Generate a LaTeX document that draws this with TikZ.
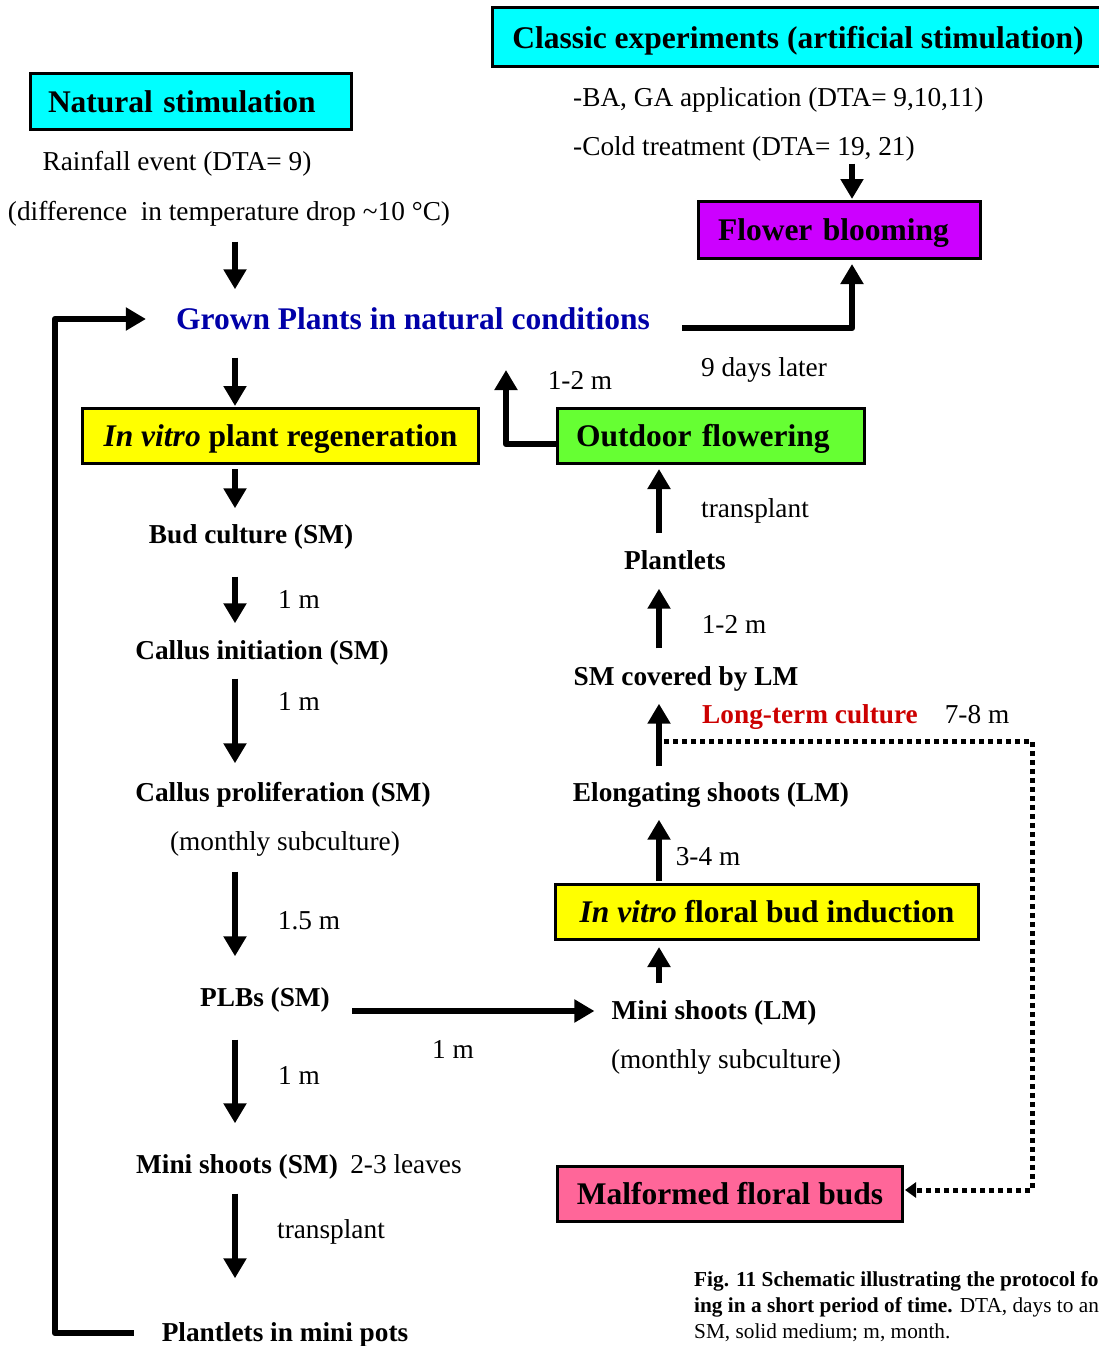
\documentclass[tikz,border=0pt]{standalone}
\usepackage{fontspec}
\setmainfont{Liberation Serif}
\usetikzlibrary{arrows.meta}
\definecolor{cyanbox}{HTML}{00FFFF}
\definecolor{magbox}{HTML}{CC00FF}
\definecolor{yelbox}{HTML}{FFFF00}
\definecolor{grnbox}{HTML}{66FF33}
\definecolor{pinkbox}{HTML}{FF6699}
\definecolor{bluetxt}{HTML}{0000A8}
\definecolor{redtxt}{HTML}{CC0000}
\tikzset{
  t/.style={inner sep=0pt, text height=22pt, text depth=5pt, font=\fontsize{27.3}{32}\selectfont},
  tb/.style={inner sep=0pt, text height=22pt, text depth=5pt, font=\bfseries\fontsize{27.3}{32}\selectfont},
  ttl/.style={inner sep=0pt, text height=27pt, text depth=6pt, font=\bfseries\fontsize{31.5}{37}\selectfont},
  box/.style={ttl, draw, line width=3pt},
  arr/.style={line width=6.5pt, line join=round, -{Triangle[length=20pt,width=22pt]}},
  dotarr/.style={line width=5pt, dash pattern=on 5pt off 4pt, -{Triangle[length=11pt,width=15pt]}},
  captxt/.style={inner sep=0pt, anchor=base west, font=\fontsize{21.3}{25}\selectfont}
}
\begin{document}
\begin{tikzpicture}[x=1pt,y=-1pt]
\useasboundingbox (0,0) rectangle (1099,1346);
% helper x positions
\coordinate (colL) at (235,0);
\coordinate (colR) at (659,0);
\coordinate (fx) at (852,0);
\coordinate (loopx) at (55,0);
\coordinate (dotx) at (1032,0);
\coordinate (upend) at (506,370);
\coordinate (dotstart) at (664,741);

% Classic experiments box (runs off the right edge)
\fill[cyanbox] (492,8) rectangle (1099,67);
\draw[line width=3pt] (1099,8) -- (492,8) -- (492,67) -- (1099,67);
\node[ttl] (classic) at (798,38) {Classic experiments (artificial stimulation)};
\node[t, anchor=west] (ba) at (573,98) {-BA, GA application (DTA= 9,10,11)};
\node[t, anchor=west] (cold) at (573,147) {-Cold treatment (DTA= 19, 21)};

\node[box, fill=magbox, minimum height=57pt, inner xsep=19.5pt, text width=243pt, align=left] (flower) at (839.5,230) {Flower blooming};

% Natural stimulation
\node[box, fill=cyanbox, minimum height=56pt, inner xsep=18pt, text width=285pt, align=left] (natural) at (190.5,101.5) {Natural stimulation};
\node[t] (rain) at (177,162) {Rainfall event (DTA= 9)};
\node[t] (diff) at (229,212) {(difference\ \ in temperature drop \char`~10 °C)};

\node[ttl, text=bluetxt] (grown) at (413,319) {Grown Plants in natural conditions};
\node[t] (later) at (764,368) {9 days later};
\node[t] (m12a) at (580,381) {1-2 m};

\node[box, fill=yelbox, minimum width=396pt, minimum height=55pt] (ivr) at (280.5,436) {\textit{In vitro} plant regeneration};
\node[box, fill=grnbox, minimum height=55pt, inner xsep=18.5pt, text width=270pt, align=left] (outdoor) at (711,436) {Outdoor flowering};

% left column
\node[tb] (bud) at (251,535) {Bud culture (SM)};
\node[t] (m1a) at (299,600) {1 m};
\node[tb] (cinit) at (262,651) {Callus initiation (SM)};
\node[t] (m1b) at (299,702) {1 m};
\node[tb] (cprolif) at (283,793) {Callus proliferation (SM)};
\node[t] (sub1) at (285,842) {(monthly subculture)};
\node[t] (m15) at (309,921) {1.5 m};
\node[tb] (plbs) at (265,998) {PLBs (SM)};
\node[t] (m1c) at (453,1050) {1 m};
\node[t] (m1d) at (299,1076) {1 m};
\node[tb] (mssm) at (237,1165) {Mini shoots (SM)};
\node[t] (leaves) at (406,1165) {2-3 leaves};
\node[t] (tp1) at (331,1230) {transplant};
\node[tb] (pmp) at (285,1333) {Plantlets in mini pots};

% right column
\node[t] (tp2) at (755,509) {transplant};
\node[tb] (plt) at (675,561) {Plantlets};
\node[t] (m12b) at (734,625) {1-2 m};
\node[tb] (smlm) at (686,677) {SM covered by LM};
\node[tb, text=redtxt] (ltc) at (810,715) {Long-term culture};
\node[t] (m78) at (977,715) {7-8 m};
\node[tb] (elong) at (711,793) {Elongating shoots (LM)};
\node[t] (m34) at (708,857) {3-4 m};
\node[box, fill=yelbox, minimum width=423pt, minimum height=55pt] (ivf) at (767,912) {\textit{In vitro} floral bud induction};
\node[tb] (mslm) at (714,1011) {Mini shoots (LM)};
\node[t] (sub2) at (726,1060) {(monthly subculture)};
\node[box, fill=pinkbox, minimum width=345pt, minimum height=55pt] (malf) at (730,1194) {Malformed floral buds};

% caption
\node[captxt] (cap1) at (694,1286) {\bfseries Fig. 11 Schematic illustrating the protocol fo};
\node[captxt] (cap2) at (694,1312) {\textbf{ing in a short period of time.} DTA, days to an};
\node[captxt] (cap3) at (694,1338) {SM, solid medium; m, month.};

% arrows - top
\draw[arr, shorten <=3pt, shorten >=1pt] (cold.south -| fx) -- (flower.north -| fx);
\draw[arr, shorten <=16pt, shorten >=13pt] (diff.south -| colL) -- (grown.north -| colL);
\draw[arr, shorten <=22pt, shorten >=1pt] (grown.south -| colL) -- (ivr.north -| colL);
\draw[arr] ([xshift=32pt,yshift=-9pt]grown.east) -| ([yshift=-4pt]flower.south -| fx);
\draw[arr] ([yshift=-8pt]outdoor.west) -| (upend);
% left column arrows
\draw[arr, shorten <=4pt, shorten >=13pt] (ivr.south -| colL) -- (bud.north -| colL);
\draw[arr, shorten <=28pt, shorten >=14pt] (bud.south -| colL) -- (cinit.north -| colL);
\draw[arr, shorten <=14pt, shorten >=16pt] (cinit.south -| colL) -- (cprolif.north -| colL);
\draw[arr, shorten <=16pt, shorten >=28pt] (sub1.south -| colL) -- (plbs.north -| colL);
\draw[arr, shorten <=28pt, shorten >=28pt] (plbs.south -| colL) -- (mssm.north -| colL);
\draw[arr, shorten <=15pt, shorten >=41pt] (mssm.south -| colL) -- (pmp.north -| colL);
\draw[arr, shorten <=22pt, shorten >=17pt] (plbs.east |- mslm.west) -- (mslm.west);
\draw[arr] ([xshift=-28pt]pmp.west) -- (pmp.west -| loopx) |- ([xshift=-30pt]grown.west);
% right column arrows
\draw[arr, shorten <=14pt, shorten >=4pt] (plt.north -| colR) -- (outdoor.south -| colR);
\draw[arr, shorten <=15pt, shorten >=14pt] (smlm.north -| colR) -- (plt.south -| colR);
\draw[arr, shorten <=13pt, shorten >=13pt] (elong.north -| colR) -- (smlm.south -| colR);
\draw[arr, shorten <=2pt, shorten >=13pt] (ivf.north -| colR) -- (elong.south -| colR);
\draw[arr, shorten <=14pt, shorten >=6pt] (mslm.north -| colR) -- (ivf.south -| colR);
% dotted long-term culture connector
\draw[dotarr, shorten >=1pt] (dotstart) -- (dotstart -| dotx) |- ([yshift=4pt]malf.east);
\end{tikzpicture}
\end{document}
